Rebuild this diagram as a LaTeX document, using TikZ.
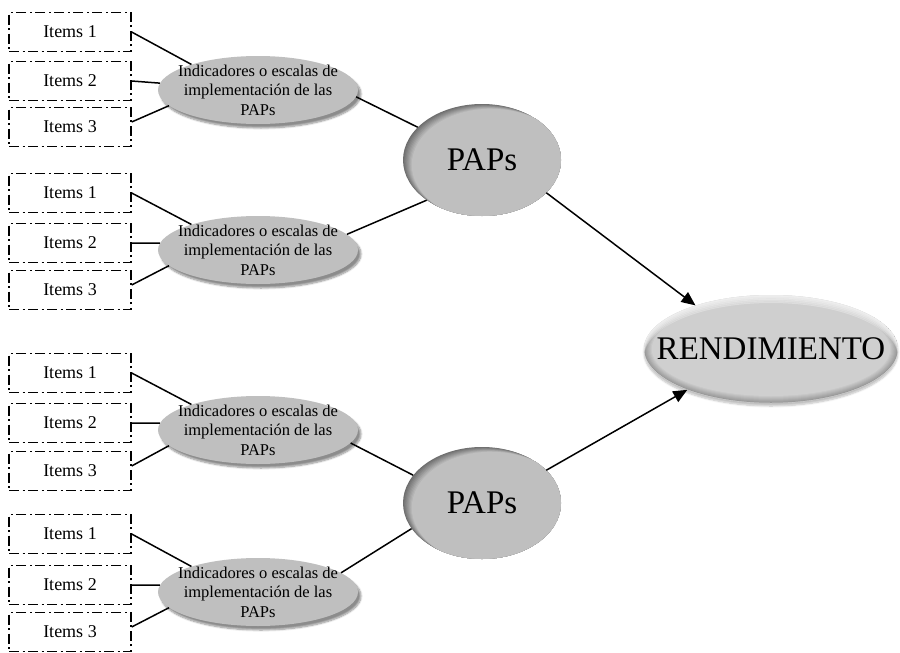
\documentclass[tikz,border=0pt]{standalone}
\usepackage{fontspec}
\setmainfont{Liberation Serif}
\usetikzlibrary{shapes.geometric,arrows.meta,shadows.blur}
\begin{document}
\begin{tikzpicture}[x=1pt,y=-1pt,
  itembox/.style={draw, line width=1.3pt,
    dash pattern=on 10pt off 3.5pt on 2pt off 3.5pt,
    minimum width=122pt, minimum height=39pt, inner sep=0pt,
    font=\fontsize{18}{21}\selectfont},
  indicator/.style={ellipse, fill=black!25, minimum width=200pt,
    minimum height=68pt, inner sep=-14pt, align=center,
    font=\fontsize{16.5}{19.5}\selectfont,
    blur shadow={shadow xshift=3pt, shadow yshift=-4pt,
      shadow blur steps=8, shadow opacity=45}},
  papsnode/.style={ellipse, minimum width=158pt, minimum height=112pt,
    inner sep=0pt, fill=black!57, font=\fontsize{33}{36}\selectfont,
    path picture={
      \foreach \k in {1,...,8}{
        \pgfmathtruncatemacro\p{57-4*\k}
        \fill[black!\p] ([shift={(\k*1.1pt,-\k*0.6pt)}]path picture bounding box.center)
          ellipse [x radius=79pt, y radius=56pt];
      }}},
  rendnode/.style={ellipse, minimum width=254pt, minimum height=108pt,
    inner xsep=-32pt, inner ysep=0pt, fill=black!40,
    font=\fontsize{33}{36}\selectfont,
    blur shadow={shadow xshift=0pt, shadow yshift=-3pt,
      shadow blur steps=6, shadow opacity=25},
    path picture={
      \foreach \k in {1,...,7}{
        \pgfmathtruncatemacro\p{40-3*\k}
        \fill[black!\p] (path picture bounding box.center)
          ellipse [x radius=127pt-\k*1.1pt, y radius=54pt-\k*1pt];
      }
      \foreach \k in {1,...,5}{
        \fill[white, opacity=0.3, even odd rule]
          (path picture bounding box.center) ellipse [x radius=127pt, y radius=54pt]
          ([yshift=-\k*1.6pt]path picture bounding box.center) ellipse [x radius=127pt, y radius=54pt];
      }}},
  conn/.style={line width=1.5pt, black},
  arr/.style={conn, -{Triangle[length=14pt,width=12pt]}}
]
\useasboundingbox (0,0) rectangle (900,653);

% item boxes and indicator ellipses, one group per row block
\foreach \g/\ya/\yb/\yc/\ye in {1/32/81/127/90, 2/193/243/290/250,
                                3/373/423/471/430, 4/534/585/632/592}{
  \node[itembox] (i\g a) at (70,\ya) {Items 1};
  \node[itembox] (i\g b) at (70,\yb) {Items 2};
  \node[itembox] (i\g c) at (70,\yc) {Items 3};
  \node[indicator] (e\g) at (258,\ye)
    {Indicadores o escalas de\\implementación de las\\PAPs};
  \draw[conn] (i\g a.east) -- (e\g.159);
  \draw[conn] (i\g b.east) -- (e\g.176);
  \draw[conn] ([yshift=5pt]i\g c.east) -- (e\g.190);
}

% latent constructs
\node[papsnode] (paps1) at (482,160) {PAPs};
\node[papsnode] (paps2) at (482,503) {PAPs};
\node[rendnode] (rend) at (771,349) {RENDIMIENTO};

% indicators to constructs
\draw[conn] (e1.356) -- (paps1.153);
\draw[conn] (e2.10)  -- (paps1.216);
\draw[conn] (e3.352) -- (paps2.158);
\draw[conn] (e4.13)  -- (paps2.200);

% constructs to outcome
\draw[arr] (paps1.333) -- (rend.150);
\draw[arr] (paps2.27)  -- (rend.206);
\end{tikzpicture}
\end{document}
